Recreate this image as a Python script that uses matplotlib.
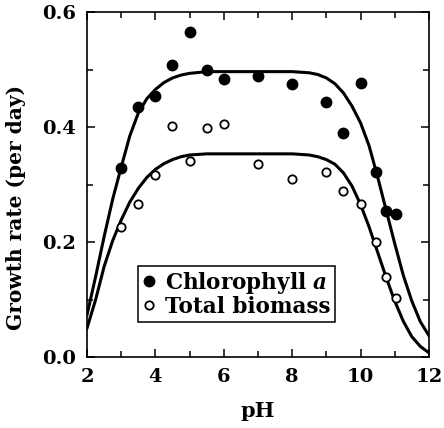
import numpy as np
import matplotlib
matplotlib.use("Agg")
import matplotlib.pyplot as plt
from matplotlib.ticker import MultipleLocator

plt.rcParams['font.family'] = ['DejaVu Serif']
plt.rcParams['font.weight'] = 'bold'
plt.rcParams['mathtext.fontset'] = 'custom'
plt.rcParams['mathtext.it'] = 'DejaVu Serif:italic:bold'

# measured points
ph_pts = [3.0, 3.5, 4.0, 4.5, 5.0, 5.5, 6.0, 7.0, 8.0, 9.0, 9.5, 10.0, 10.45, 10.75, 11.05]
chl_a = [0.330, 0.436, 0.455, 0.508, 0.566, 0.500, 0.484, 0.490, 0.476, 0.444, 0.391, 0.478, 0.322, 0.254, 0.250]
biomass = [0.227, 0.266, 0.317, 0.403, 0.341, 0.399, 0.406, 0.337, 0.311, 0.322, 0.289, 0.266, 0.201, 0.139, 0.104]

# fitted curves
ph_fit = [2.0, 2.25, 2.5, 2.75, 3.0, 3.25, 3.5, 3.75, 4.0, 4.25, 4.5, 4.75, 5.0, 5.5, 6.0,
          7.0, 8.0, 8.5, 8.75, 9.0, 9.25, 9.5, 9.75, 10.0, 10.25, 10.5, 10.75, 11.0,
          11.25, 11.5, 11.75, 12.0]
chl_fit = [0.074, 0.140, 0.210, 0.275, 0.331, 0.385, 0.425, 0.450, 0.466, 0.478, 0.486, 0.491,
           0.494, 0.497, 0.497, 0.497, 0.497, 0.495, 0.492, 0.486, 0.476, 0.460, 0.437, 0.408,
           0.368, 0.314, 0.256, 0.198, 0.143, 0.098, 0.062, 0.038]
bio_fit = [0.051, 0.100, 0.158, 0.203, 0.239, 0.270, 0.294, 0.313, 0.327, 0.337, 0.344, 0.349,
           0.352, 0.354, 0.354, 0.354, 0.354, 0.352, 0.349, 0.344, 0.336, 0.321, 0.298, 0.266,
           0.227, 0.183, 0.139, 0.098, 0.063, 0.036, 0.019, 0.008]

fig = plt.figure(figsize=(4.44, 4.28), dpi=100)
ax = fig.add_axes([0.196, 0.165, 0.770, 0.806])

ax.plot(ph_fit, chl_fit, color='black', lw=2.2, solid_joinstyle='round', zorder=2)
ax.plot(ph_fit, bio_fit, color='black', lw=2.2, solid_joinstyle='round', zorder=2)
ax.plot(ph_pts, chl_a, 'o', color='black', ms=7.5, label='Chlorophyll $\\mathit{a}$', zorder=3)
ax.plot(ph_pts, biomass, 'o', mfc='white', mec='black', mew=1.3, ms=6,
        label='Total biomass', zorder=3)

ax.set_xlim(2, 12)
ax.set_ylim(0, 0.6)
ax.xaxis.set_major_locator(MultipleLocator(2))
ax.xaxis.set_minor_locator(MultipleLocator(1))
ax.yaxis.set_major_locator(MultipleLocator(0.2))
ax.yaxis.set_minor_locator(MultipleLocator(0.1))
ax.tick_params(which='both', direction='in', top=True, right=True, width=1.1)
ax.tick_params(which='major', length=6, labelsize=14, pad=8)
ax.tick_params(which='minor', length=4)
for s in ax.spines.values():
    s.set_linewidth(1.2)

ax.set_xlabel('pH', fontsize=15, fontweight='bold')
ax.set_ylabel('Growth rate (per day)', fontsize=14.5, fontweight='bold')
ax.xaxis.set_label_coords(0.5, -0.125)
ax.yaxis.set_label_coords(-0.178, 0.434)

leg = ax.legend(loc='upper left', bbox_to_anchor=(0.149, 0.266), borderaxespad=0,
                fancybox=False, edgecolor='black', framealpha=1, handlelength=0.6,
                handletextpad=0.45, borderpad=0.2, labelspacing=0.0,
                prop={'size': 15.5, 'weight': 'bold'})
leg.get_frame().set_linewidth(1.1)

fig.savefig('out.png', dpi=100)
